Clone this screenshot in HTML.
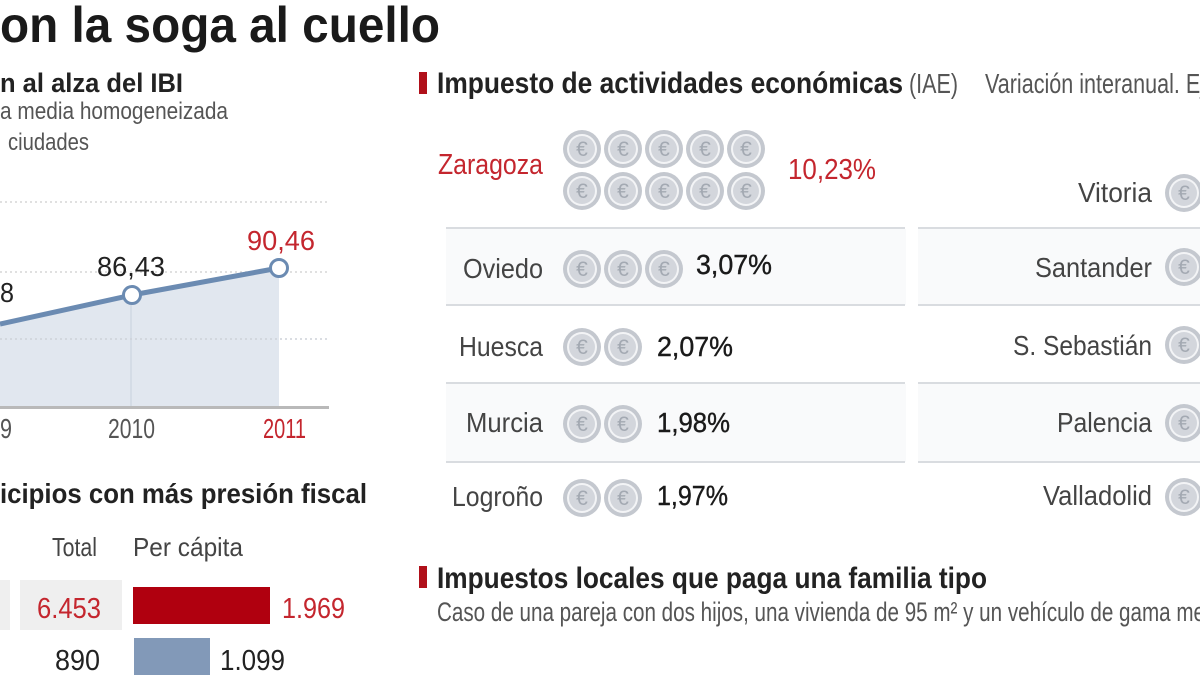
<!DOCTYPE html>
<html>
<head>
<meta charset="utf-8">
<style>
  html,body{margin:0;padding:0;background:#fff;}
  body{width:1200px;height:675px;overflow:hidden;}
  svg{display:block;}
</style>
</head>
<body>
<svg width="1200" height="675" viewBox="0 0 1200 675" xmlns="http://www.w3.org/2000/svg" font-family="'Liberation Sans', Arial, sans-serif">
  <defs>
    <g id="coin">
      <circle r="19" fill="#c4c8cf"/>
      <circle r="15" fill="#f3f4f6"/>
      <circle r="13" fill="#d3d6dc"/>
    </g>
  </defs>
  <rect width="1200" height="675" fill="#ffffff"/>

  <!-- Title -->
  <text x="0" y="42" font-size="50" font-weight="bold" fill="#1a1a1a" textLength="440" lengthAdjust="spacingAndGlyphs">on la soga al cuello</text>

  <!-- Left top section -->
  <text x="0" y="92" font-size="27" font-weight="bold" fill="#222" textLength="183" lengthAdjust="spacingAndGlyphs">n al alza del IBI</text>
  <text x="0" y="119" font-size="24" fill="#555" textLength="228" lengthAdjust="spacingAndGlyphs">a media homogeneizada</text>
  <text x="8" y="150" font-size="24" fill="#555" textLength="81" lengthAdjust="spacingAndGlyphs">ciudades</text>

  <!-- Chart -->
  <polygon points="0,324 132,295 279,268 279,407 0,407" fill="#e1e7ef"/>
  <line x1="131" y1="298" x2="131" y2="407" stroke="#d0d8e3" stroke-width="1.5"/>
  <line x1="0" y1="202" x2="328" y2="202" stroke="#d6d6d6" stroke-width="1.5" stroke-dasharray="2,3"/>
  <line x1="0" y1="272" x2="328" y2="272" stroke="#d6d6d6" stroke-width="1.5" stroke-dasharray="2,3"/>
  <line x1="0" y1="339" x2="328" y2="339" stroke="#cdd2d9" stroke-width="1.5" stroke-dasharray="2,3"/>
  <line x1="0" y1="407.5" x2="329" y2="407.5" stroke="#b9b9b9" stroke-width="3"/>
  <polyline points="0,324 132,295 279,268" fill="none" stroke="#6b8bb2" stroke-width="5"/>
  <circle cx="132" cy="295" r="8.5" fill="#fff" stroke="#6b8bb2" stroke-width="3"/>
  <circle cx="279" cy="268" r="8.5" fill="#fff" stroke="#6b8bb2" stroke-width="3"/>

  <text x="0" y="302" font-size="28" fill="#222" textLength="14" lengthAdjust="spacingAndGlyphs">8</text>
  <text x="97" y="276" font-size="28" fill="#222" textLength="68" lengthAdjust="spacingAndGlyphs">86,43</text>
  <text x="247" y="250" font-size="28" fill="#c4262e" textLength="68" lengthAdjust="spacingAndGlyphs">90,46</text>

  <text x="0" y="438" font-size="28" fill="#555" textLength="12" lengthAdjust="spacingAndGlyphs">9</text>
  <text x="108" y="438" font-size="28" fill="#555" textLength="47" lengthAdjust="spacingAndGlyphs">2010</text>
  <text x="263" y="438" font-size="28" fill="#c4262e" textLength="43" lengthAdjust="spacingAndGlyphs">2011</text>

  <!-- Bottom-left section -->
  <text x="0" y="503" font-size="28" font-weight="bold" fill="#222" textLength="367" lengthAdjust="spacingAndGlyphs">icipios con más presión fiscal</text>
  <text x="52" y="556" font-size="26" fill="#444" textLength="45" lengthAdjust="spacingAndGlyphs">Total</text>
  <text x="133" y="556" font-size="26" fill="#444" textLength="110" lengthAdjust="spacingAndGlyphs">Per cápita</text>

  <rect x="0" y="580" width="10" height="50" fill="#efefef"/>
  <rect x="20" y="580" width="102" height="50" fill="#efefef"/>
  <text x="37" y="618" font-size="29" fill="#c4262e" textLength="64" lengthAdjust="spacingAndGlyphs">6.453</text>
  <rect x="133" y="587" width="137" height="37" fill="#b0000f"/>
  <text x="282" y="618" font-size="29" fill="#c4262e" textLength="63" lengthAdjust="spacingAndGlyphs">1.969</text>

  <text x="55" y="670" font-size="29" fill="#222" textLength="45" lengthAdjust="spacingAndGlyphs">890</text>
  <rect x="134" y="638" width="76" height="37" fill="#8299b8"/>
  <text x="220" y="670" font-size="29" fill="#222" textLength="65" lengthAdjust="spacingAndGlyphs">1.099</text>

  <!-- Right section: IAE -->
  <rect x="419" y="72" width="8" height="22" fill="#b0101a"/>
  <text x="437" y="93" font-size="30" font-weight="bold" fill="#222" textLength="466" lengthAdjust="spacingAndGlyphs">Impuesto de actividades económicas</text>
  <text x="909" y="93" font-size="28" fill="#555" textLength="49" lengthAdjust="spacingAndGlyphs">(IAE)</text>
  <text x="985" y="93" font-size="28" fill="#555" textLength="220" lengthAdjust="spacingAndGlyphs">Variación interanual. Ej</text>

  <!-- row backgrounds -->
  <rect x="446" y="229" width="754" height="76" fill="#f9fafb"/>
  <rect x="446" y="384" width="754" height="78" fill="#f9fafb"/>

  <!-- separators -->
  <g stroke="#d9dce0" stroke-width="2">
    <line x1="446" y1="228" x2="905" y2="228"/>
    <line x1="918" y1="228" x2="1200" y2="228"/>
    <line x1="446" y1="305" x2="905" y2="305"/>
    <line x1="918" y1="305" x2="1200" y2="305"/>
    <line x1="446" y1="383" x2="905" y2="383"/>
    <line x1="918" y1="383" x2="1200" y2="383"/>
    <line x1="446" y1="462" x2="905" y2="462"/>
    <line x1="918" y1="462" x2="1200" y2="462"/>
  </g>
  <rect x="906" y="226" width="12" height="240" fill="#ffffff"/>

  <!-- Zaragoza -->
  <text x="438" y="174" font-size="29" fill="#c4262e" textLength="105" lengthAdjust="spacingAndGlyphs">Zaragoza</text>
  <text x="788" y="179" font-size="29" fill="#c4262e" textLength="88" lengthAdjust="spacingAndGlyphs">10,23%</text>

  <!-- Coins -->
  <g>
    <use href="#coin" x="582" y="149"/><use href="#coin" x="623" y="149"/><use href="#coin" x="664" y="149"/><use href="#coin" x="705" y="149"/><use href="#coin" x="746" y="149"/>
    <use href="#coin" x="582" y="191"/><use href="#coin" x="623" y="191"/><use href="#coin" x="664" y="191"/><use href="#coin" x="705" y="191"/><use href="#coin" x="746" y="191"/>
    <use href="#coin" x="582" y="269"/><use href="#coin" x="623" y="269"/><use href="#coin" x="664" y="269"/>
    <use href="#coin" x="582" y="347"/><use href="#coin" x="623" y="347"/>
    <use href="#coin" x="582" y="424"/><use href="#coin" x="623" y="424"/>
    <use href="#coin" x="582" y="498"/><use href="#coin" x="623" y="498"/>
    <use href="#coin" x="1184" y="193"/><use href="#coin" x="1184" y="267"/><use href="#coin" x="1184" y="345"/><use href="#coin" x="1184" y="423"/><use href="#coin" x="1184" y="497"/>
  </g>
  <g font-size="21" fill="#a3a9b2" text-anchor="middle">
    <text x="582" y="156">€</text><text x="623" y="156">€</text><text x="664" y="156">€</text><text x="705" y="156">€</text><text x="746" y="156">€</text>
    <text x="582" y="198">€</text><text x="623" y="198">€</text><text x="664" y="198">€</text><text x="705" y="198">€</text><text x="746" y="198">€</text>
    <text x="582" y="276">€</text><text x="623" y="276">€</text><text x="664" y="276">€</text>
    <text x="582" y="354">€</text><text x="623" y="354">€</text>
    <text x="582" y="431">€</text><text x="623" y="431">€</text>
    <text x="582" y="505">€</text><text x="623" y="505">€</text>
    <text x="1184" y="200">€</text><text x="1184" y="274">€</text><text x="1184" y="352">€</text><text x="1184" y="430">€</text><text x="1184" y="504">€</text>
  </g>

  <!-- Left column names & values -->
  <g font-size="28" fill="#444">
    <text x="463" y="278" textLength="80" lengthAdjust="spacingAndGlyphs">Oviedo</text>
    <text x="459" y="356" textLength="84" lengthAdjust="spacingAndGlyphs">Huesca</text>
    <text x="466" y="432" textLength="77" lengthAdjust="spacingAndGlyphs">Murcia</text>
    <text x="452" y="506" textLength="91" lengthAdjust="spacingAndGlyphs">Logroño</text>
  </g>
  <g font-size="28" fill="#1a1a1a" stroke="#1a1a1a" stroke-width="0.4">
    <text x="696" y="274" textLength="76" lengthAdjust="spacingAndGlyphs">3,07%</text>
    <text x="657" y="356" textLength="76" lengthAdjust="spacingAndGlyphs">2,07%</text>
    <text x="657" y="432" textLength="73" lengthAdjust="spacingAndGlyphs">1,98%</text>
    <text x="657" y="505" textLength="71" lengthAdjust="spacingAndGlyphs">1,97%</text>
  </g>

  <!-- Right column names -->
  <g font-size="28" fill="#444">
    <text x="1078" y="202" textLength="74" lengthAdjust="spacingAndGlyphs">Vitoria</text>
    <text x="1035" y="277" textLength="117" lengthAdjust="spacingAndGlyphs">Santander</text>
    <text x="1013" y="355" textLength="139" lengthAdjust="spacingAndGlyphs">S. Sebastián</text>
    <text x="1057" y="432" textLength="95" lengthAdjust="spacingAndGlyphs">Palencia</text>
    <text x="1043" y="505" textLength="109" lengthAdjust="spacingAndGlyphs">Valladolid</text>
  </g>

  <!-- Bottom right section -->
  <rect x="419" y="566" width="8" height="22" fill="#b0101a"/>
  <text x="437" y="588" font-size="30" font-weight="bold" fill="#222" textLength="550" lengthAdjust="spacingAndGlyphs">Impuestos locales que paga una familia tipo</text>
  <text x="437" y="621" font-size="27" fill="#555" textLength="768" lengthAdjust="spacingAndGlyphs">Caso de una pareja con dos hijos, una vivienda de 95 m² y un vehículo de gama me</text>
</svg>
</body>
</html>
